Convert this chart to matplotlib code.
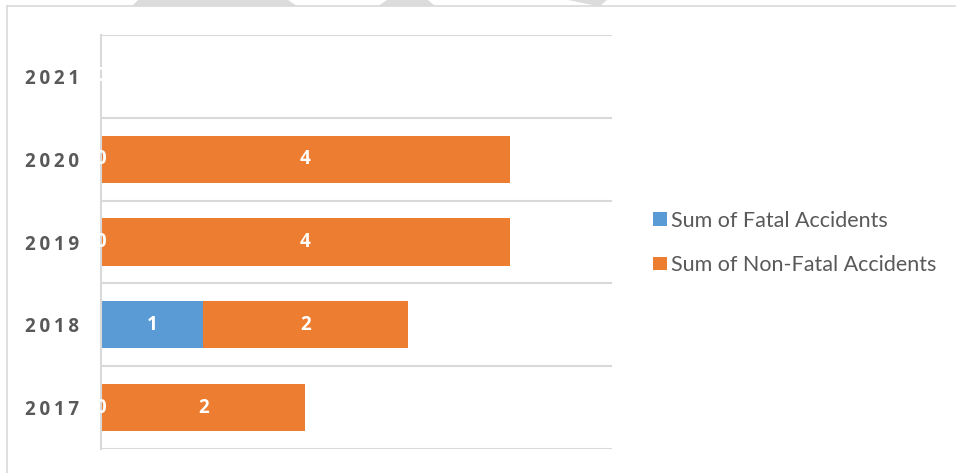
import matplotlib
matplotlib.use("Agg")
import matplotlib.pyplot as plt
from matplotlib.patches import Polygon, Patch
from matplotlib.lines import Line2D
import numpy as np

years = ["2017", "2018", "2019", "2020", "2021"]
fatal = [0, 1, 0, 0, 0]
non_fatal = [2, 2, 4, 4, 0]
series_names = ["Sum of Fatal Accidents", "Sum of Non-Fatal Accidents"]
colors = ["#5B9BD5", "#ED7D31"]

W, H = 956, 473
fig = plt.figure(figsize=(W / 100, H / 100), dpi=100)
fig.patch.set_facecolor("white")

def fx(x):
    return x / W

def fy(y):
    return 1 - y / H

FONT_B = ["Open Sans", "DejaVu Sans"]
FONT_L = ["Lato", "DejaVu Sans"]
GRID = "#D9D9D9"
TXT = "#595959"

# outer chart border (top + left visible)
fig.add_artist(Line2D([fx(7), fx(7)], [fy(6.5), 0], color=GRID, lw=1.2, transform=fig.transFigure))
fig.add_artist(Line2D([fx(7), 1], [fy(6.5), fy(6.5)], color=GRID, lw=1.2, transform=fig.transFigure))

# watermark fragments above the chart
shapes = [
    [(138, 0), (288, 0), (297, 6), (132, 6)],
    [(387, 0), (428, 0), (435, 6), (378, 6)],
    [(568, 0), (607, 0), (600, 6), (597, 6)],
]
for s in shapes:
    fig.add_artist(Polygon([(fx(x), fy(y)) for x, y in s], closed=True,
                           facecolor="#DCDCDC", edgecolor="none", transform=fig.transFigure))

ax = fig.add_axes([fx(101), fy(449), fx(612) - fx(101), fy(35) - fy(449)])
y = np.arange(len(years))
bh = 0.57
ax.barh(y, fatal, height=bh, color=colors[0], label=series_names[0], zorder=3)
ax.barh(y, non_fatal, left=fatal, height=bh, color=colors[1], label=series_names[1], zorder=3)

for i in range(len(years)):
    ax.text(fatal[i] / 2, y[i], str(fatal[i]), ha="center", va="center", color="white",
            fontsize=13.5, fontweight="bold", family=FONT_B, zorder=5)
    ax.text(fatal[i] + non_fatal[i] / 2, y[i], str(non_fatal[i]), ha="center", va="center",
            color="white", fontsize=13.5, fontweight="bold", family=FONT_B, zorder=5)

ax.set_xlim(0, 5)
ax.set_ylim(-0.5, len(years) - 0.5)
ax.set_xticks([])
ax.set_yticks(y)
ax.set_yticklabels(["\u2009".join(list(t)) for t in years], family=FONT_B, fontsize=13.5,
                   fontweight="bold", color=TXT)
ax.tick_params(axis="y", length=0, pad=16)
for b in np.arange(-0.5, len(years), 1.0):
    ax.axhline(b, color=GRID, lw=1.5, zorder=1)
for sp in ["top", "right", "bottom"]:
    ax.spines[sp].set_visible(False)
ax.spines["left"].set_color(GRID)
ax.spines["left"].set_linewidth(1.5)
ax.spines["left"].set_zorder(4)

handles = [Patch(facecolor=c, edgecolor="none") for c in colors]
leg = fig.legend(handles, series_names, loc="center left",
                 bbox_to_anchor=(fx(634), fy(243)), frameon=False,
                 prop={"family": FONT_L, "size": 15.5}, labelcolor=TXT,
                 handlelength=0.62, handleheight=0.62, handletextpad=0.2,
                 labelspacing=1.12)

fig.savefig("out.png", dpi=100, facecolor="white")
